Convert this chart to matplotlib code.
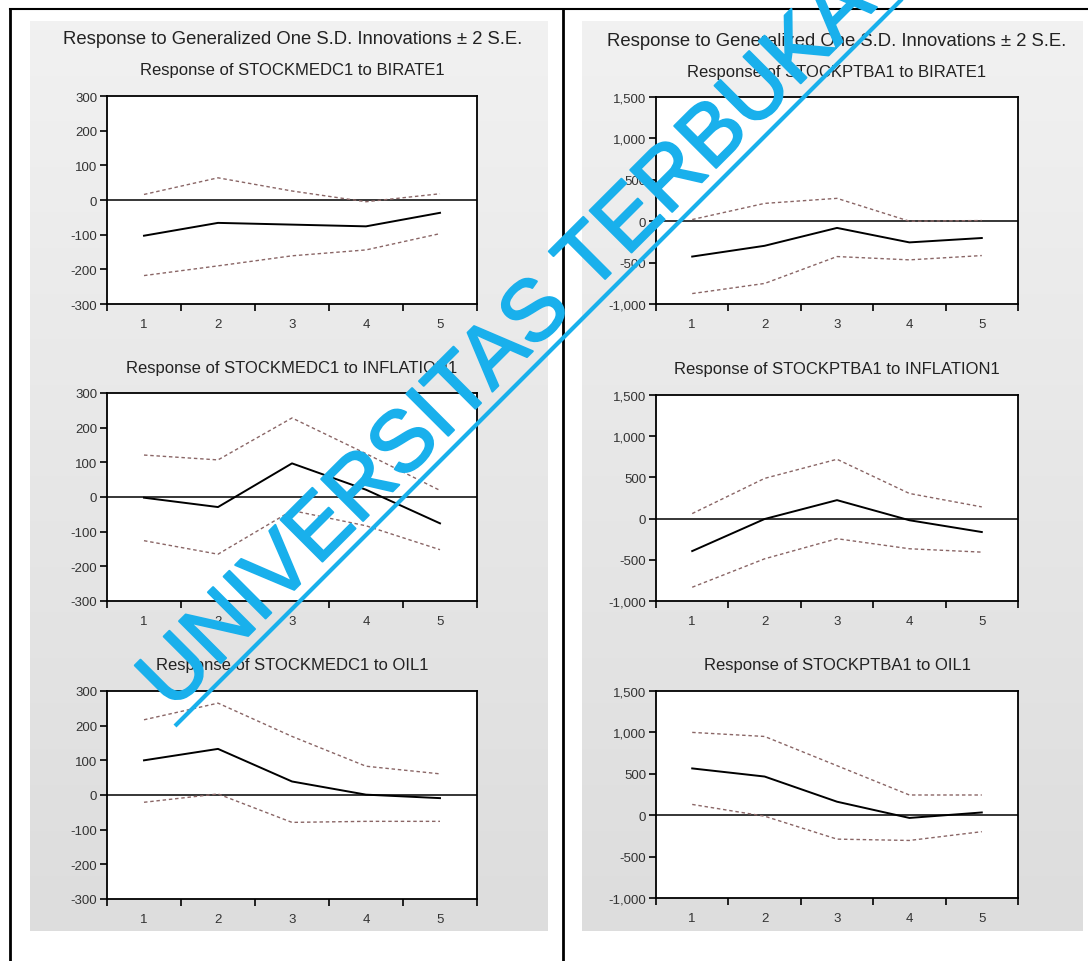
import matplotlib
matplotlib.use('Agg')
import matplotlib.pyplot as plt
import matplotlib.patheffects as pe
import numpy as np

plt.rcParams['font.family'] = ['Liberation Sans', 'DejaVu Sans']

# impulse response data
periods = [1, 2, 3, 4, 5]

medc_birate = [-103, -66, -71, -76, -37]
medc_birate_up = [16, 64, 26, -5, 18]
medc_birate_lo = [-218, -190, -161, -144, -97]

ptba_birate = [-427, -297, -81, -256, -203]
ptba_birate_up = [20, 215, 276, 0, 8]
ptba_birate_lo = [-874, -752, -427, -467, -415]

medc_infl = [-2, -29, 97, 21, -76]
medc_infl_up = [121, 107, 228, 125, 19]
medc_infl_lo = [-126, -165, -39, -83, -152]

ptba_infl = [-394, -5, 224, -20, -163]
ptba_infl_up = [61, 488, 720, 305, 142]
ptba_infl_lo = [-833, -488, -244, -366, -407]

medc_oil = [100, 133, 39, 1, -9]
medc_oil_up = [217, 265, 169, 83, 61]
medc_oil_lo = [-21, 3, -79, -76, -76]

ptba_oil = [565, 467, 163, -33, 33]
ptba_oil_up = [1000, 951, 598, 244, 244]
ptba_oil_lo = [130, -12, -289, -305, -199]

medc_ticks = [-300, -200, -100, 0, 100, 200, 300]
ptba_ticks = [-1000, -500, 0, 500, 1000, 1500]

main_title = "Response to Generalized One S.D. Innovations \u00b1 2 S.E."
wm_color = '#19b0ec'

W, H = 1088, 962
fig = plt.figure(figsize=(W / 100, H / 100), dpi=100)

# background: frame lines and grey panels
bg = fig.add_axes([0, 0, 1, 1], zorder=-5)
bg.axis('off')
grad = np.linspace(0, 1, 100).reshape(-1, 1)
cmap = matplotlib.colors.LinearSegmentedColormap.from_list('g', ['#f1f1f1', '#dddddd'])
for x0, x1 in [(30, 548), (582, 1083)]:
    bg.imshow(grad, cmap=cmap, extent=[x0, x1, 932, 22], aspect='auto', vmin=0, vmax=1)
bg.plot([10, W], [10, 10], color='black', lw=1.5)
bg.plot([10, 10], [10, H], color='black', lw=2)
bg.plot([563, 563], [10, H], color='black', lw=2)
bg.set_xlim(0, W)
bg.set_ylim(H, 0)


def px(x, y):
    return x / W, 1 - y / H


def irf_panel(rect, resp, up, lo, ticks, fmt, title):
    left, top, right, bottom = rect
    ax = fig.add_axes([left / W, 1 - bottom / H, (right - left) / W, (bottom - top) / H])
    ax.axhline(0, color='black', lw=1.1)
    ax.plot(periods, up, color='#8a6666', lw=1.0, ls=(0, (2.5, 2)))
    ax.plot(periods, lo, color='#8a6666', lw=1.0, ls=(0, (2.5, 2)))
    ax.plot(periods, resp, color='black', lw=1.4)
    ax.set_xlim(0.5, 5.5)
    ax.set_ylim(ticks[0], ticks[-1])
    ax.set_xticks(periods)
    ax.set_xticklabels([str(p) for p in periods])
    ax.set_xticks(np.arange(0.5, 6, 1), minor=True)
    ax.tick_params(axis='x', which='major', length=0, pad=10, labelsize=9.5, labelcolor='#333333')
    ax.tick_params(axis='x', which='minor', length=5, width=1.2, direction='out')
    ax.set_yticks(ticks)
    ax.set_yticklabels([fmt.format(t) for t in ticks])
    ax.tick_params(axis='y', length=5, width=1.2, direction='out', pad=2, labelsize=9.5, labelcolor='#333333')
    for s in ax.spines.values():
        s.set_linewidth(1.3)
    x, y = px((left + right) / 2, top - 26)
    fig.text(x, y, title, ha='center', va='center', fontsize=12, color='#222222')
    return ax


irf_panel((107, 97, 477, 305), medc_birate, medc_birate_up, medc_birate_lo, medc_ticks, '{:d}',
          'Response of STOCKMEDC1 to BIRATE1')
irf_panel((656, 98, 1018, 305), ptba_birate, ptba_birate_up, ptba_birate_lo, ptba_ticks, '{:,d}',
          'Response of STOCKPTBA1 to BIRATE1')
irf_panel((107, 394, 477, 602), medc_infl, medc_infl_up, medc_infl_lo, medc_ticks, '{:d}',
          'Response of STOCKMEDC1 to INFLATION1')
irf_panel((656, 396, 1018, 602), ptba_infl, ptba_infl_up, ptba_infl_lo, ptba_ticks, '{:,d}',
          'Response of STOCKPTBA1 to INFLATION1')
irf_panel((107, 692, 477, 900), medc_oil, medc_oil_up, medc_oil_lo, medc_ticks, '{:d}',
          'Response of STOCKMEDC1 to OIL1')
irf_panel((656, 692, 1018, 899), ptba_oil, ptba_oil_up, ptba_oil_lo, ptba_ticks, '{:,d}',
          'Response of STOCKPTBA1 to OIL1')

fig.text(*px(293, 40), main_title, ha='center', va='center', fontsize=13.3, color='#222222')
fig.text(*px(837, 41), main_title, ha='center', va='center', fontsize=13.3, color='#222222')

# watermark on top
wm = fig.add_axes([0, 0, 1, 1], zorder=20)
wm.axis('off')
wm.patch.set_alpha(0)
wm.plot([175, 905], [727, -3], color=wm_color, lw=3, solid_capstyle='butt')
wm.text(172, 713, 'UNIVERSITAS TERBUKA', rotation=45, rotation_mode='anchor',
        ha='left', va='baseline', fontsize=62, color=wm_color,
        path_effects=[pe.withStroke(linewidth=1.5, foreground=wm_color)])
wm.set_xlim(0, W)
wm.set_ylim(H, 0)

fig.savefig('out.png', dpi=100)
